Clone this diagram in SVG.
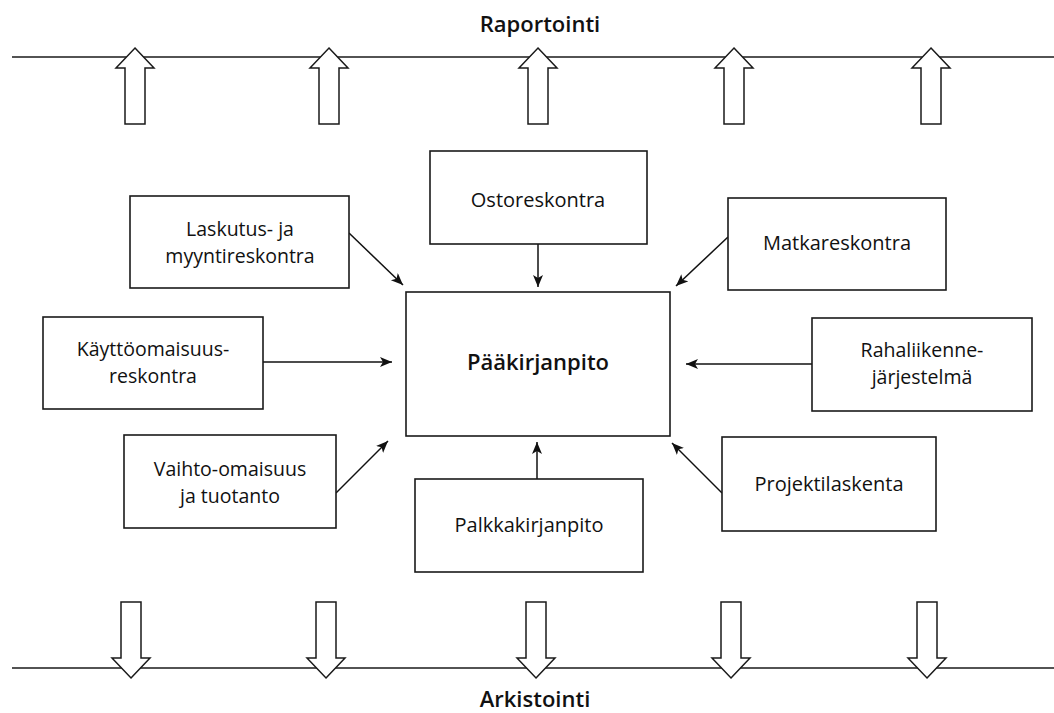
<svg xmlns="http://www.w3.org/2000/svg" width="1054" height="713" viewBox="0 0 1054 713">
<style>
.bg{fill:#ffffff}
.box{fill:#ffffff;stroke:#1a1a1a;stroke-width:1.6}
.lbl{font-family:"Open Sans","Liberation Sans",sans-serif;font-size:20px;fill:#111;text-anchor:middle}
.lbl2{font-family:"Open Sans","Liberation Sans",sans-serif;font-size:19.5px;fill:#111;text-anchor:middle}
.main{font-family:"Open Sans","Liberation Sans",sans-serif;font-size:22px;font-weight:600;fill:#111;text-anchor:middle}
.hdr{font-family:"Open Sans","Liberation Sans",sans-serif;font-size:22px;font-weight:600;fill:#111;text-anchor:middle}
.rail{stroke:#1a1a1a;stroke-width:1.6;fill:none}
.big{fill:#ffffff;stroke:#1a1a1a;stroke-width:1.5;stroke-linejoin:miter}
.con{stroke:#111;stroke-width:1.5;fill:none;marker-end:url(#ah)}
</style>
<defs>
<marker id="ah" markerUnits="userSpaceOnUse" markerWidth="14" markerHeight="12" refX="12" refY="5" orient="auto">
<path d="M0,0 L12,5 L0,10 L3,5 Z" fill="#111"/>
</marker>
</defs>
<rect class="bg" x="0" y="0" width="1054" height="713"/>

<g id="raportointi">
<line class="rail" x1="12" y1="57" x2="1054" y2="57"/>
<polygon class="big" points="135,48 154,68 145,68 145,124 125,124 125,68 116,68"/>
<polygon class="big" points="329,48 348,68 339,68 339,124 319,124 319,68 310,68"/>
<polygon class="big" points="538,48 557,68 548,68 548,124 528,124 528,68 519,68"/>
<polygon class="big" points="734,48 753,68 744,68 744,124 724,124 724,68 715,68"/>
<polygon class="big" points="931,48 950,68 941,68 941,124 921,124 921,68 912,68"/>
<text class="hdr" x="540" y="32">Raportointi</text>
</g>

<g id="arkistointi">
<line class="rail" x1="12" y1="668" x2="1054" y2="668"/>
<polygon class="big" points="131,678 150,658 141,658 141,602 121,602 121,658 112,658"/>
<polygon class="big" points="326,678 345,658 336,658 336,602 316,602 316,658 307,658"/>
<polygon class="big" points="536,678 555,658 546,658 546,602 526,602 526,658 517,658"/>
<polygon class="big" points="731,678 750,658 741,658 741,602 721,602 721,658 712,658"/>
<polygon class="big" points="927,678 946,658 937,658 937,602 917,602 917,658 908,658"/>
<text class="hdr" x="535" y="707">Arkistointi</text>
</g>

<g id="connectors">
<line class="con" x1="349" y1="233" x2="403" y2="285"/>
<line class="con" x1="538" y1="244" x2="538" y2="287"/>
<line class="con" x1="728" y1="237" x2="676" y2="286"/>
<line class="con" x1="263" y1="362" x2="392" y2="362"/>
<line class="con" x1="812" y1="364" x2="686" y2="364"/>
<line class="con" x1="336" y1="493" x2="388" y2="441"/>
<line class="con" x1="537" y1="479" x2="537" y2="442"/>
<line class="con" x1="722" y1="493" x2="672" y2="443"/>
</g>

<g id="laskutus">
<rect class="box" x="130" y="196" width="219" height="92"/>
<text class="lbl2" x="240" y="235.5">Laskutus- ja</text>
<text class="lbl2" x="240" y="262.5">myyntireskontra</text>
</g>
<g id="ostoreskontra">
<rect class="box" x="430" y="151" width="217" height="93"/>
<text class="lbl" x="538" y="207">Ostoreskontra</text>
</g>
<g id="matkareskontra">
<rect class="box" x="728" y="198" width="218" height="92"/>
<text class="lbl" x="837" y="250">Matkareskontra</text>
</g>
<g id="kayttoomaisuus">
<rect class="box" x="43" y="317" width="220" height="92"/>
<text class="lbl2" x="153" y="355.5">Käyttöomaisuus-</text>
<text class="lbl2" x="153" y="382.5">reskontra</text>
</g>
<g id="paakirjanpito">
<rect class="box" x="406" y="292" width="264" height="144"/>
<text class="main" x="538" y="370">Pääkirjanpito</text>
</g>
<g id="rahaliikenne">
<rect class="box" x="812" y="318" width="220" height="93"/>
<text class="lbl2" x="922" y="356.5">Rahaliikenne-</text>
<text class="lbl2" x="922" y="383.5">järjestelmä</text>
</g>
<g id="vaihto">
<rect class="box" x="124" y="435" width="212" height="93"/>
<text class="lbl2" x="230" y="476">Vaihto-omaisuus</text>
<text class="lbl2" x="230" y="503">ja tuotanto</text>
</g>
<g id="palkka">
<rect class="box" x="415" y="479" width="228" height="93"/>
<text class="lbl" x="529" y="532">Palkkakirjanpito</text>
</g>
<g id="projekti">
<rect class="box" x="722" y="437" width="214" height="94"/>
<text class="lbl" x="829" y="491">Projektilaskenta</text>
</g>
</svg>
